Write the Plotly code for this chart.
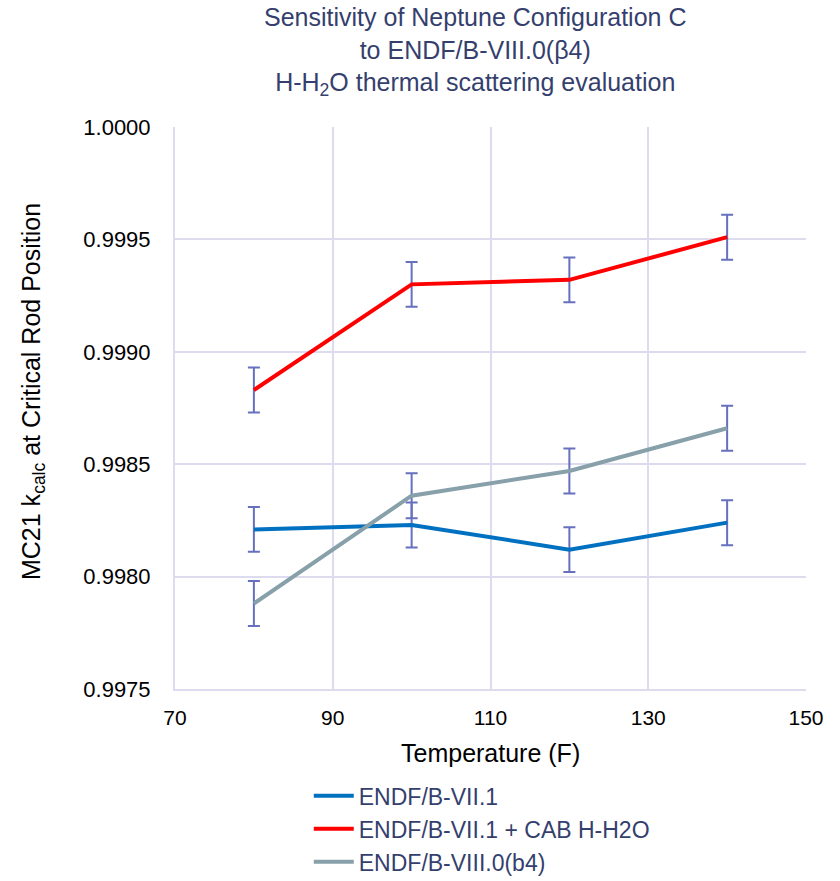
import plotly.graph_objects as go

# Temperature points (F)
temperature = [80, 100, 120, 140]

# MC21 k_calc at critical rod position, per library
k_endf71 = [0.99821, 0.99823, 0.99812, 0.99824]
k_endf71_cab = [0.99883, 0.99930, 0.99932, 0.99951]
k_endf80b4 = [0.99788, 0.99836, 0.99847, 0.99866]

# One-sigma statistical uncertainty on each k_calc
k_sigma = [0.0001, 0.0001, 0.0001, 0.0001]

series_names = ["ENDF/B-VII.1", "ENDF/B-VII.1 + CAB H-H2O", "ENDF/B-VIII.0(b4)"]
series_values = [k_endf71, k_endf71_cab, k_endf80b4]
series_colors = ["#0070C0", "#FF0000", "#87A0A9"]

y_ticks = [0.9975, 0.9980, 0.9985, 0.9990, 0.9995, 1.0000]
x_ticks = [70, 90, 110, 130, 150]

GRID = "#DCDCEE"
NAVY = "#353F6E"
FONT = "Liberation Sans, Arial, sans-serif"

fig = go.Figure()
for name, vals, color in zip(series_names, series_values, series_colors):
    fig.add_trace(go.Scatter(
        x=temperature,
        y=vals,
        name=name,
        mode="lines",
        line=dict(color=color, width=4),
        error_y=dict(type="data", array=k_sigma, visible=True,
                     color="#6670BF", thickness=2, width=6),
    ))

fig.update_layout(
    width=840,
    height=881,
    margin=dict(l=175, r=34, t=127, b=192, autoexpand=False),
    paper_bgcolor="white",
    plot_bgcolor="white",
    font=dict(family=FONT, size=20, color="black"),
    xaxis=dict(
        range=[70, 150],
        tickvals=x_ticks,
        ticktext=[str(v) for v in x_ticks],
        showgrid=True, gridcolor=GRID, gridwidth=1.5,
        showline=True, linecolor=GRID, linewidth=2,
        zeroline=False,
        ticks="outside", ticklen=9, tickcolor="rgba(0,0,0,0)",
        tickfont=dict(size=21, color="black"),
    ),
    yaxis=dict(
        range=[0.9975, 1.0000],
        tickvals=y_ticks,
        ticktext=[f"{v:.4f}" for v in y_ticks],
        showgrid=True, gridcolor=GRID, gridwidth=1.5,
        showline=True, linecolor=GRID, linewidth=2,
        zeroline=False,
        ticks="outside", ticklen=18, tickcolor="rgba(0,0,0,0)",
        tickfont=dict(size=22, color="black"),
    ),
    showlegend=True,
    legend=dict(
        orientation="v",
        x=0.212, xanchor="left",
        y=-0.152, yanchor="top",
        font=dict(family=FONT, size=23, color=NAVY),
        bgcolor="rgba(0,0,0,0)",
        tracegroupgap=0,
        itemwidth=40,
    ),
    annotations=[
        dict(
            text="Sensitivity of Neptune Configuration C<br>to ENDF/B-VIII.0(β4)<br>"
                 "H-H<sub>2</sub>O thermal scattering evaluation",
            xref="paper", yref="paper", x=0.4754, y=1.2245,
            xanchor="center", yanchor="top", showarrow=False, align="center",
            font=dict(family=FONT, size=25, color=NAVY),
        ),
        dict(
            text="Temperature (F)",
            xref="paper", yref="paper", x=0.5, y=-0.1139,
            xanchor="center", yanchor="middle", showarrow=False,
            font=dict(family=FONT, size=25, color="black"),
        ),
        dict(
            text="MC21 k<sub>calc</sub> at Critical Rod Position",
            xref="paper", yref="paper", x=-0.225, y=0.5285,
            xanchor="center", yanchor="middle", showarrow=False, textangle=-90,
            font=dict(family=FONT, size=25, color="black"),
        ),
    ],
)

fig.write_html("out.html")
